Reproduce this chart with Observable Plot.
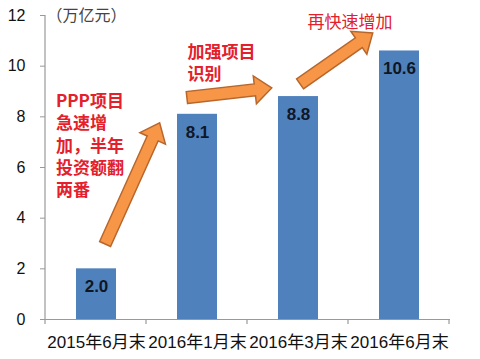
<!DOCTYPE html>
<html><head><meta charset="utf-8">
<script src="https://cdn.jsdelivr.net/npm/d3@7"></script>
<script src="https://cdn.jsdelivr.net/npm/@observablehq/plot@0.6"></script>
<style>body{margin:0;background:#fff}</style>
</head><body><div id="chart"></div>
<script>
const categories = ["2015年6月末", "2016年1月末", "2016年3月末", "2016年6月末"];
const values = [2.0, 8.1, 8.8, 10.6];
const valueLabels = ["2.0", "8.1", "8.8", "10.6"];
const yTicks = [0, 2, 4, 6, 8, 10, 12];
const unitLabel = "（万亿元）";
const noteTexts = ["PPP项目\n急速增\n加，半年\n投资额翻\n两番", "加强项目\n识别", "再快速增加"];
const noteCats = [categories[0], categories[1], categories[2]];
const noteY = [6.91, 10.15, 11.8];
// arrows: u = fractional category index, y = value
const arrowU1 = [0.09, 0.90, 2.02];
const arrowY1 = [2.96, 8.74, 9.28];
const arrowU2 = [0.63, 1.74, 2.74];
const arrowY2 = [7.74, 9.12, 11.29];

const numFont = "Liberation Sans, Arial, Noto Sans CJK SC, sans-serif";
const cjkFont = "Noto Sans CJK SC, sans-serif";
const red = "#e3202b";

function decorations(index, scales, vals, dims) {
  const x = scales.x, y = scales.y;
  const c0 = x(categories[0]), c1 = x(categories[1]);
  const step = c1 - c0;
  const bw = typeof x.bandwidth === "function" ? x.bandwidth() : step * 0.4;
  const px = u => c0 + bw / 2 + u * step;
  const g = d3.create("svg:g");
  const left = dims.marginLeft, bottom = dims.height - dims.marginBottom;
  g.append("line").attr("x1", left).attr("x2", left).attr("y1", y(yTicks[yTicks.length-1])).attr("y2", bottom)
    .attr("stroke", "#999").attr("stroke-width", 1.2);
  for (let k = 0; k <= categories.length; k++) {
    const xx = left + k * step;
    g.append("line").attr("x1", xx).attr("x2", xx).attr("y1", bottom).attr("y2", bottom + 5)
      .attr("stroke", "#999").attr("stroke-width", 1.2);
  }
  for (let i = 0; i < arrowU1.length; i++) {
    const x1 = px(arrowU1[i]), y1 = y(arrowY1[i]), x2 = px(arrowU2[i]), y2 = y(arrowY2[i]);
    const dx = x2 - x1, dy = y2 - y1, L = Math.hypot(dx, dy), ux = dx / L, uy = dy / L, nx = -uy, ny = ux;
    const sw = 6, hw = 14, hl = 17;
    const bx = x2 - ux * hl, by = y2 - uy * hl;
    const pts = [[x1 + nx*sw, y1 + ny*sw], [bx + nx*sw, by + ny*sw], [bx + nx*hw, by + ny*hw], [x2, y2],
                 [bx - nx*hw, by - ny*hw], [bx - nx*sw, by - ny*sw], [x1 - nx*sw, y1 - ny*sw]];
    g.append("path").attr("d", "M" + pts.map(p => p.join(",")).join("L") + "Z")
      .attr("fill", "#f79646").attr("stroke", "#b8662c").attr("stroke-width", 1.5);
  }
  return g.node();
}

const noteDx = [-40.6, -10, 9];

const chart = Plot.plot({
  width: 480,
  height: 359,
  marginLeft: 45,
  marginRight: 30,
  marginTop: 15,
  marginBottom: 40,
  style: {fontFamily: numFont, background: "#fff"},
  x: {domain: categories, paddingInner: 0.6, paddingOuter: 0.3, label: null},
  y: {domain: [0, 12], label: null},
  marks: [
    Plot.barY(categories, {x: d => d, y: (d, i) => values[i], fill: "#4f81bd"}),
    Plot.ruleY([0], {stroke: "#999", strokeWidth: 1.2}),
    Plot.axisY({ticks: yTicks, tickSize: 5, tickPadding: 15, fontSize: 16, stroke: "#999", fill: "#111", label: null}),
    Plot.axisX({tickSize: 0, tickPadding: 16, fontSize: 17, fill: "#111", label: null}),
    decorations,
    Plot.text(categories, {x: d => d, y: (d, i) => values[i], text: (d, i) => valueLabels[i], dy: 18,
      fontSize: 17, fontWeight: "bold", fill: "#0f1626"}),
    Plot.text([unitLabel], {frameAnchor: "top-left", text: d => d, textAnchor: "start", dx: 1,
      lineAnchor: "middle", fontSize: 16, fill: "#444", fontFamily: cjkFont}),
    ...noteTexts.map((t, i) => Plot.text([t], {x: () => noteCats[i], y: () => noteY[i], text: d => d,
      textAnchor: "start", dx: noteDx[i], lineHeight: 1.3, fontSize: 17,
      fontWeight: i === 2 ? "normal" : "bold", fill: red, fontFamily: cjkFont}))
  ]
});
document.getElementById("chart").appendChild(chart);
</script>
</body></html>
